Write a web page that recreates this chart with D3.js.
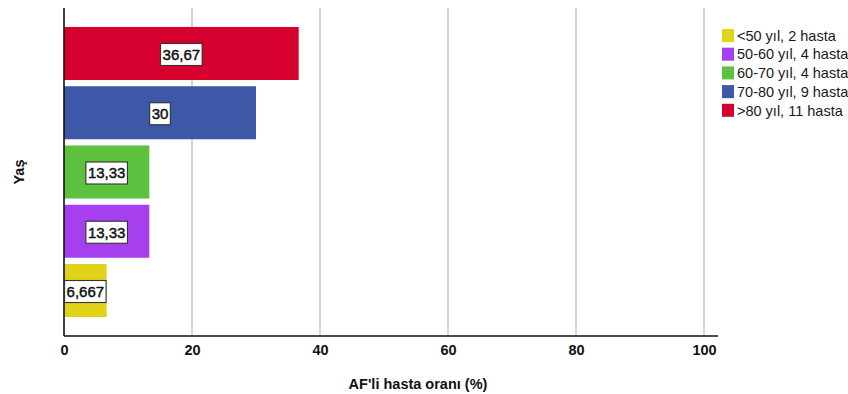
<!DOCTYPE html>
<html><head><meta charset="utf-8">
<script src="https://cdn.jsdelivr.net/npm/d3@7"></script>
<style>body{margin:0;background:#fff}svg{display:block;font-family:Arial,"Liberation Sans",sans-serif}</style>
</head><body><svg id="c" width="848" height="394"></svg>
<script>
const categories = ["<50 yıl, 2 hasta","50-60 yıl, 4 hasta","60-70 yıl, 4 hasta","70-80 yıl, 9 hasta",">80 yıl, 11 hasta"];
const values = [6.667, 13.33, 13.33, 30, 36.67];
const valueLabels = ["6,667","13,33","13,33","30","36,67"];
const colors = ["#e0d31a","#a640ef","#5cc13c","#3d58a6","#d6002e"];
const xTicks = [0,20,40,60,80,100];
const xTitle = "AF'li hasta oranı (%)";
const yTitle = "Yaş";

const svg = d3.select("#c");
const x = d3.scaleLinear().domain([0,100]).range([64,704]);
const y = d3.scaleBand().domain(categories.slice().reverse()).range([8,336]).paddingInner(0.105).paddingOuter(0.32);

// gridlines
svg.append("g").selectAll("line").data(xTicks.filter(d=>d>0)).join("line")
  .attr("x1",d=>x(d)).attr("x2",d=>x(d)).attr("y1",8).attr("y2",336)
  .attr("stroke","#c9c9c9").attr("stroke-width",1.5);

// bars
svg.append("g").selectAll("rect").data(categories).join("rect")
  .attr("x",x(0)).attr("y",d=>y(d))
  .attr("width",(d,i)=>x(values[i])-x(0)).attr("height",y.bandwidth())
  .attr("fill",(d,i)=>colors[i]);

// axes
const xAxis = svg.append("g").attr("transform","translate(0,336)")
  .call(d3.axisBottom(x).tickValues(xTicks).tickSize(0).tickPadding(9));
xAxis.select(".domain").remove();
xAxis.selectAll("text").attr("font-size","14.5px").attr("font-weight","bold").attr("fill","#111").attr("font-family","Arial, 'Liberation Sans', sans-serif");
svg.append("line").attr("x1",64).attr("x2",718).attr("y1",336).attr("y2",336).attr("stroke","#111").attr("stroke-width",1.6);
svg.append("line").attr("x1",64).attr("x2",64).attr("y1",8).attr("y2",336).attr("stroke","#111").attr("stroke-width",1.6);

// value labels
const lg = svg.append("g").selectAll("g").data(categories).join("g")
  .attr("transform",(d,i)=>`translate(${(x(0)+x(values[i]))/2},${y(d)+y.bandwidth()/2+1})`);
lg.each(function(d,i){
  const g = d3.select(this);
  const t = g.append("text").text(valueLabels[i]).attr("text-anchor","middle").attr("dy","0.36em")
    .attr("font-size","15px").attr("fill","#111").attr("stroke","#111").attr("stroke-width",0.45);
  const w = t.node().getComputedTextLength();
  g.insert("rect","text").attr("x",-w/2-2).attr("y",-11).attr("width",w+4).attr("height",22)
    .attr("fill","#fff").attr("stroke","#333").attr("stroke-width",1.1);
});

// titles
svg.append("text").attr("x",418).attr("y",389).attr("text-anchor","middle")
  .attr("font-size","14.5px").attr("font-weight","bold").attr("fill","#111").text(xTitle);
svg.append("text").attr("transform","translate(24,172) rotate(-90)").attr("text-anchor","middle")
  .attr("font-size","14.5px").attr("font-weight","bold").attr("fill","#111").text(yTitle);

// legend
const leg = svg.append("g").selectAll("g").data(categories).join("g")
  .attr("transform",(d,i)=>`translate(722,${29+i*18.7})`);
leg.append("rect").attr("width",12).attr("height",13).attr("fill",(d,i)=>colors[i]);
leg.append("text").attr("x",15).attr("y",6.5).attr("dy","0.36em").attr("font-size","14.5px").attr("fill","#1a1a1a").text(d=>d);
</script></body></html>
